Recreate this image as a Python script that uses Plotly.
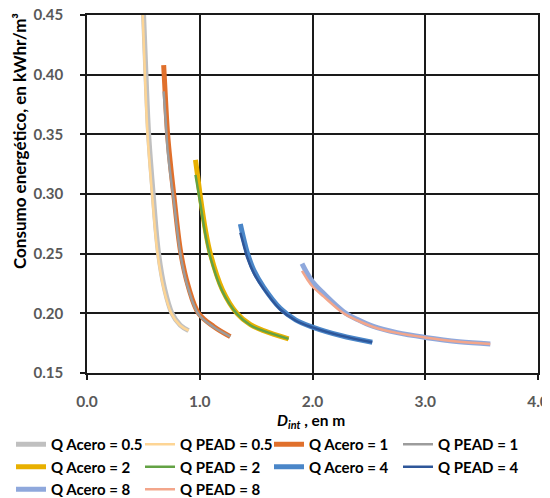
import plotly.graph_objects as go

# ---- data ----
d_acero_05 = [0.502, 0.523, 0.547, 0.587, 0.635, 0.690, 0.754, 0.828, 0.901]
e_acero_05 = [0.450, 0.400, 0.350, 0.300, 0.250, 0.220, 0.200, 0.190, 0.1855]
d_pead_05 = [0.494, 0.514, 0.537, 0.577, 0.626, 0.682, 0.748, 0.824, 0.901]
e_pead_05 = [0.450, 0.400, 0.350, 0.300, 0.250, 0.220, 0.200, 0.190, 0.1855]

d_q1 = [0.680, 0.697, 0.715, 0.740, 0.769, 0.833, 0.900, 0.990, 1.123, 1.271]
e_acero_1 = [0.408, 0.378, 0.350, 0.325, 0.300, 0.250, 0.222, 0.200, 0.189, 0.1805]
e_pead_1 = [0.386, 0.362, 0.337, 0.316, 0.295, 0.247, 0.220, 0.199, 0.1885, 0.1805]

d_q2 = [0.962, 0.980, 1.005, 1.050, 1.094, 1.200, 1.330, 1.450, 1.566, 1.788]
e_acero_2 = [0.3286, 0.316, 0.298, 0.270, 0.250, 0.220, 0.200, 0.1905, 0.1855, 0.1786]
e_pead_2 = [0.316, 0.306, 0.292, 0.266, 0.247, 0.2185, 0.1995, 0.190, 0.1853, 0.1786]

d_q4 = [1.36, 1.39, 1.42, 1.48, 1.566, 1.714, 1.85, 2.00, 2.25, 2.53]
e_acero_4 = [0.2749, 0.2625, 0.2515, 0.236, 0.222, 0.2042, 0.1945, 0.1885, 0.1814, 0.1758]
e_pead_4 = [0.2675, 0.2570, 0.2470, 0.2335, 0.2205, 0.2032, 0.1940, 0.1882, 0.1813, 0.1758]

d_q8 = [1.907, 1.95, 2.00, 2.10, 2.276, 2.40, 2.54, 2.75, 3.00, 3.30, 3.577]
e_acero_8 = [0.2417, 0.234, 0.2264, 0.2165, 0.2014, 0.1948, 0.189, 0.1838, 0.1798, 0.1762, 0.1744]
e_pead_8 = [0.2355, 0.229, 0.2225, 0.2140, 0.2000, 0.1940, 0.1886, 0.1836, 0.1797, 0.1762, 0.1744]

x_ticks = [0, 1, 2, 3, 4]
y_ticks = [0.15, 0.20, 0.25, 0.30, 0.35, 0.40, 0.45]

series = [
    ("Q Acero = 0.5", d_acero_05, e_acero_05, "#C0C0C0", 5),
    ("Q PEAD = 0.5", d_pead_05, e_pead_05, "#FDD595", 2.5),
    ("Q Acero = 1", d_q1, e_acero_1, "#E0702C", 5),
    ("Q PEAD = 1", d_q1, e_pead_1, "#9C9C9C", 2.5),
    ("Q Acero = 2", d_q2, e_acero_2, "#E8B000", 5),
    ("Q PEAD = 2", d_q2, e_pead_2, "#63A244", 2.5),
    ("Q Acero = 4", d_q4, e_acero_4, "#4A86C8", 5),
    ("Q PEAD = 4", d_q4, e_pead_4, "#2E5699", 2.5),
    ("Q Acero = 8", d_q8, e_acero_8, "#8FA8DC", 5),
    ("Q PEAD = 8", d_q8, e_pead_8, "#F3A68B", 2.5),
]

FONT = "Lato"

fig = go.Figure()
for name, xs, ys, col, w in series:
    fig.add_trace(go.Scatter(
        x=xs, y=ys, mode="lines", name=name,
        line=dict(color=col, width=w, shape="spline"),
    ))

# page body has an 8px default margin, so the figure is 8px smaller
fig.update_layout(
    width=542, height=490,
    margin=dict(l=79, r=12, t=7, b=125, autoexpand=False),
    paper_bgcolor="white", plot_bgcolor="white",
    font=dict(family=FONT, size=15, color="black"),
    showlegend=True,
    legend=dict(
        orientation="h", xref="paper", yref="paper",
        x=(3 - 79) / 451, y=-55 / 358, xanchor="left", yanchor="top",
        entrywidth=84, entrywidthmode="pixels",
        font=dict(family=FONT, size=15, color="black", weight="bold"),
        tracegroupgap=0, itemwidth=30,
    ),
)

fig.update_xaxes(
    range=[0, 4], tickvals=x_ticks, tickformat=".1f", automargin=False,
    showgrid=True, gridcolor="#1a1a1a", gridwidth=1.5,
    showline=True, linecolor="#1a1a1a", linewidth=1.5, mirror=True,
    ticks="outside", ticklen=5, tickcolor="#1a1a1a", tickwidth=1.5,
    tickfont=dict(family=FONT, size=15.5, color="#595959", weight="bold"),
    ticklabelstandoff=9, ticklabeloverflow="allow",
    zeroline=False,
)
fig.update_yaxes(
    range=[0.15, 0.45], tickvals=y_ticks, tickformat=".2f", automargin=False,
    showgrid=True, gridcolor="#1a1a1a", gridwidth=1.5,
    showline=True, linecolor="#1a1a1a", linewidth=1.5, mirror=True,
    ticks="outside", ticklen=5, tickcolor="#1a1a1a", tickwidth=1.5,
    tickfont=dict(family=FONT, size=15, color="#595959", weight="bold"),
    ticklabelstandoff=14, ticklabeloverflow="allow",
    zeroline=False,
)

fig.add_annotation(
    text="<b>Consumo energético, en kWhr/m³</b>",
    xref="paper", yref="paper", x=(19 - 87) / 451, y=(373 - 141) / 358,
    textangle=-90, showarrow=False, xanchor="center", yanchor="middle",
    font=dict(family=FONT, size=17, color="black"),
)
fig.add_annotation(
    text="<b><i>D</i><sub><i>int</i></sub> , en m</b>",
    xref="paper", yref="paper", x=(311 - 87) / 451, y=(373 - 421) / 358,
    showarrow=False, xanchor="center", yanchor="middle",
    font=dict(family=FONT, size=15.5, color="black"),
)

fig.write_html("out.html")
